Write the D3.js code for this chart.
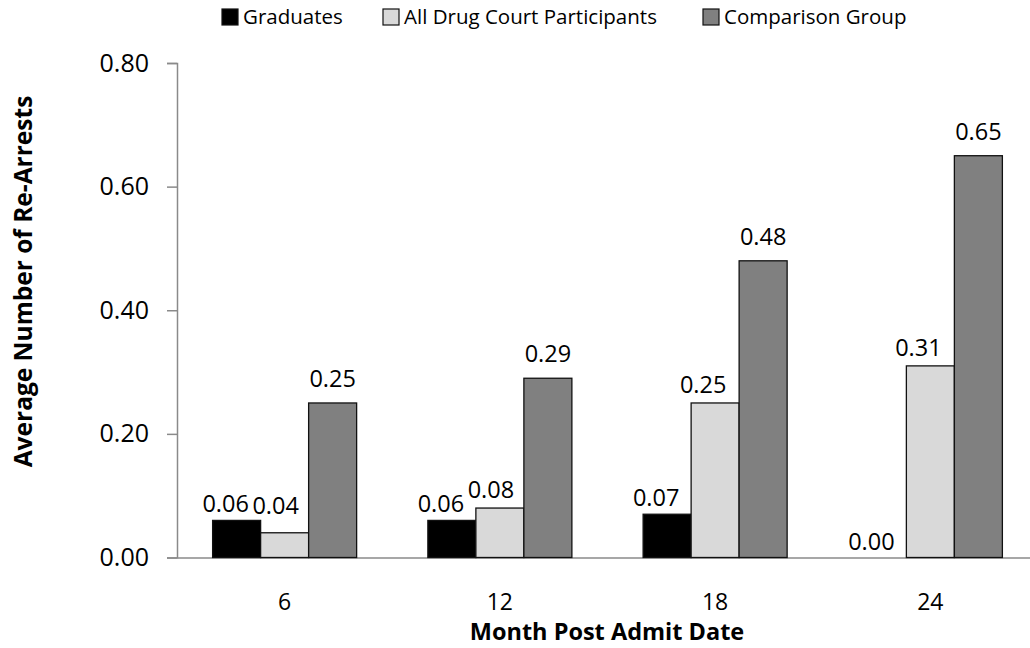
<!DOCTYPE html>
<html>
<head>
<meta charset="utf-8">
<script src="https://cdn.jsdelivr.net/npm/d3@7"></script>
<style>
  html, body { margin: 0; padding: 0; background: #fff; }
  svg { display: block; font-family: "Open Sans", sans-serif; }
</style>
</head>
<body>
<svg id="chart" width="1030" height="648"></svg>
<script>
const categories = ["6", "12", "18", "24"];
const seriesNames = ["Graduates", "All Drug Court Participants", "Comparison Group"];
const graduates = [0.06, 0.06, 0.07, 0.00];
const allParticipants = [0.04, 0.08, 0.25, 0.31];
const comparison = [0.25, 0.29, 0.48, 0.65];
const yTicks = [0, 0.2, 0.4, 0.6, 0.8];
const seriesValues = [graduates, allParticipants, comparison];
const colors = ["#000000", "#d9d9d9", "#808080"];

const svg = d3.select("#chart");
const plotLeft = 177, plotRight = 1038, plotTop = 63, plotBottom = 557.5;

const x0 = d3.scaleBand().domain(categories).range([plotLeft, plotRight]).padding(0);
const x1 = d3.scaleBand().domain(seriesNames).range([0, x0.bandwidth()]).paddingInner(0).paddingOuter(0.742);
const y = d3.scaleLinear().domain([0, 0.8]).range([plotBottom, plotTop]);

// Y axis
const yAxis = svg.append("g").attr("transform", `translate(${plotLeft},0)`)
  .call(d3.axisLeft(y).tickValues(yTicks).tickFormat(d3.format(".2f")).tickSize(10).tickPadding(18));
yAxis.selectAll("line, path").attr("stroke", "#8a8a8a").attr("stroke-width", 1.5);
yAxis.selectAll("text").attr("font-size", 25).attr("fill", "#000").attr("font-family", "Open Sans");

// X axis
const xAxis = svg.append("g").attr("transform", `translate(0,${plotBottom})`)
  .call(d3.axisBottom(x0).tickSize(0).tickPadding(0));
xAxis.select("path").attr("stroke", "#8a8a8a").attr("stroke-width", 1.5);
xAxis.selectAll("text").attr("font-size", 23).attr("fill", "#000").attr("font-family", "Open Sans")
  .attr("dy", null).attr("y", 52);

// Bars
const rows = categories.map((c, i) => ({ cat: c, vals: seriesNames.map((s, j) => ({ s, j, v: seriesValues[j][i] })) }));
const groups = svg.append("g").selectAll("g").data(rows).join("g")
  .attr("transform", d => `translate(${x0(d.cat)},0)`);
groups.selectAll("rect").data(d => d.vals).join("rect")
  .attr("x", d => x1(d.s))
  .attr("y", d => y(d.v))
  .attr("width", x1.bandwidth())
  .attr("height", d => y(0) - y(d.v))
  .attr("fill", d => colors[d.j])
  .attr("stroke", d => d.v > 0 ? "#111" : "none")
  .attr("stroke-width", 1.3);

// Data labels (with simple collision avoidance like the original)
const labelDx = [-11, -12, 0];
const labelDy = [-8, -10, -16];
rows.forEach(r => {
  r.vals.forEach(d => {
    d.ly = y(d.v) + labelDy[d.j];
    d.lx = x1(d.s) + x1.bandwidth() / 2 + labelDx[d.j];
  });
  const a = r.vals[0], b = r.vals[1];
  b.ly = Math.min(b.ly, a.ly + 2);
  if (Math.abs(b.ly - a.ly) < 20) b.lx = Math.max(b.lx, a.lx + 50);
});
groups.selectAll("text.lbl").data(d => d.vals).join("text")
  .attr("class", "lbl")
  .attr("x", d => d.lx)
  .attr("y", d => d.ly)
  .attr("text-anchor", "middle")
  .attr("font-size", 23.5)
  .attr("fill", "#000")
  .text(d => d3.format(".2f")(d.v));

// Axis titles
svg.append("text")
  .attr("transform", `translate(32,281.5) rotate(-90)`)
  .attr("text-anchor", "middle")
  .attr("font-weight", "bold")
  .attr("font-size", 24.5)
  .text("Average Number of Re-Arrests");

svg.append("text")
  .attr("x", 607).attr("y", 640)
  .attr("text-anchor", "middle")
  .attr("font-weight", "bold")
  .attr("font-size", 23.5)
  .text("Month Post Admit Date");

// Legend
const legendX = [222, 383, 703];
const legend = svg.append("g").selectAll("g").data(seriesNames).join("g")
  .attr("transform", (d, i) => `translate(${legendX[i]},9)`);
legend.append("rect").attr("width", 16).attr("height", 16)
  .attr("fill", (d, i) => colors[i]).attr("stroke", "#111").attr("stroke-width", 1.2);
legend.append("text").attr("x", 21).attr("y", 15).attr("font-size", 20.5).attr("fill", "#000")
  .text(d => d);
</script>
</body>
</html>
